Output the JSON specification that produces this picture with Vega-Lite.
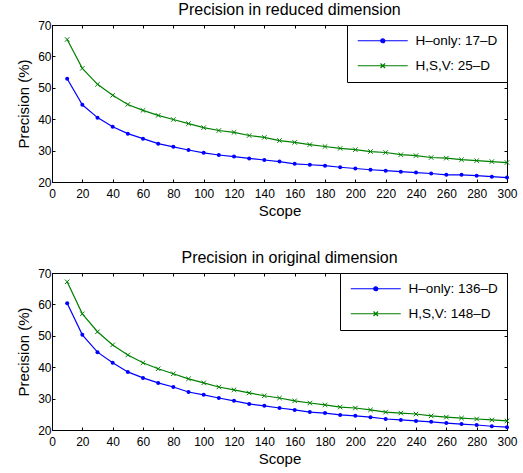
{
  "$schema": "https://vega.github.io/schema/vega-lite/v6.json",
  "background": "white",
  "padding": {"left": 16, "top": 1, "right": 4, "bottom": 2},
  "spacing": 30,
  "resolve": {"scale": {"color": "independent"}, "legend": {"color": "independent"}},
  "config": {
    "font": "Liberation Sans",
    "view": {"stroke": "black", "strokeWidth": 1},
    "axis": {
      "domainColor": "black", "tickColor": "black", "labelColor": "black", "titleColor": "black",
      "labelFont": "Liberation Sans", "titleFont": "Liberation Sans",
      "labelFontSize": 12, "titleFontSize": 15, "titleFontWeight": "normal",
      "grid": false, "tickSize": -3, "domainWidth": 1, "labelFlush": false, "labelOverlap": false
    },
    "axisX": {"labelPadding": 9, "titlePadding": 4},
    "axisY": {"labelPadding": 4, "titlePadding": 6},
    "title": {"font": "Liberation Sans", "fontSize": 16, "fontWeight": "normal", "color": "black", "offset": 1, "dx": 10},
    "legend": {
      "orient": "top-right", "offset": 0, "title": null,
      "strokeColor": "black", "fillColor": "white", "padding": 9,
      "labelFont": "Liberation Sans", "labelFontSize": 13.5, "labelColor": "black",
      "symbolSize": 100, "symbolStrokeWidth": 1.2, "labelOffset": 46, "rowPadding": 10
    }
  },
  "datasets": {
    "top": [
      {"s":"H–only: 17–D","x":10,"y":52.9},{"s":"H–only: 17–D","x":20,"y":44.6},{"s":"H–only: 17–D","x":30,"y":40.5},{"s":"H–only: 17–D","x":40,"y":37.6},{"s":"H–only: 17–D","x":50,"y":35.4},{"s":"H–only: 17–D","x":60,"y":33.8},{"s":"H–only: 17–D","x":70,"y":32.2},{"s":"H–only: 17–D","x":80,"y":31.2},{"s":"H–only: 17–D","x":90,"y":30.2},{"s":"H–only: 17–D","x":100,"y":29.3},
      {"s":"H–only: 17–D","x":110,"y":28.6},{"s":"H–only: 17–D","x":120,"y":28.1},{"s":"H–only: 17–D","x":130,"y":27.5},{"s":"H–only: 17–D","x":140,"y":27.0},{"s":"H–only: 17–D","x":150,"y":26.5},{"s":"H–only: 17–D","x":160,"y":25.8},{"s":"H–only: 17–D","x":170,"y":25.5},{"s":"H–only: 17–D","x":180,"y":25.2},{"s":"H–only: 17–D","x":190,"y":24.7},{"s":"H–only: 17–D","x":200,"y":24.3},
      {"s":"H–only: 17–D","x":210,"y":23.9},{"s":"H–only: 17–D","x":220,"y":23.6},{"s":"H–only: 17–D","x":230,"y":23.3},{"s":"H–only: 17–D","x":240,"y":23.0},{"s":"H–only: 17–D","x":250,"y":22.7},{"s":"H–only: 17–D","x":260,"y":22.3},{"s":"H–only: 17–D","x":270,"y":22.3},{"s":"H–only: 17–D","x":280,"y":22.0},{"s":"H–only: 17–D","x":290,"y":21.7},{"s":"H–only: 17–D","x":300,"y":21.4},
      {"s":"H,S,V: 25–D","x":10,"y":65.4},{"s":"H,S,V: 25–D","x":20,"y":56.2},{"s":"H,S,V: 25–D","x":30,"y":51.1},{"s":"H,S,V: 25–D","x":40,"y":47.6},{"s":"H,S,V: 25–D","x":50,"y":44.7},{"s":"H,S,V: 25–D","x":60,"y":42.8},{"s":"H,S,V: 25–D","x":70,"y":41.2},{"s":"H,S,V: 25–D","x":80,"y":39.9},{"s":"H,S,V: 25–D","x":90,"y":38.6},{"s":"H,S,V: 25–D","x":100,"y":37.3},
      {"s":"H,S,V: 25–D","x":110,"y":36.4},{"s":"H,S,V: 25–D","x":120,"y":35.8},{"s":"H,S,V: 25–D","x":130,"y":34.8},{"s":"H,S,V: 25–D","x":140,"y":34.2},{"s":"H,S,V: 25–D","x":150,"y":33.2},{"s":"H,S,V: 25–D","x":160,"y":32.6},{"s":"H,S,V: 25–D","x":170,"y":31.9},{"s":"H,S,V: 25–D","x":180,"y":31.3},{"s":"H,S,V: 25–D","x":190,"y":30.7},{"s":"H,S,V: 25–D","x":200,"y":30.3},
      {"s":"H,S,V: 25–D","x":210,"y":29.7},{"s":"H,S,V: 25–D","x":220,"y":29.4},{"s":"H,S,V: 25–D","x":230,"y":28.7},{"s":"H,S,V: 25–D","x":240,"y":28.4},{"s":"H,S,V: 25–D","x":250,"y":27.8},{"s":"H,S,V: 25–D","x":260,"y":27.6},{"s":"H,S,V: 25–D","x":270,"y":27.1},{"s":"H,S,V: 25–D","x":280,"y":26.8},{"s":"H,S,V: 25–D","x":290,"y":26.5},{"s":"H,S,V: 25–D","x":300,"y":26.2}
    ],
    "bottom": [
      {"s":"H–only: 136–D","x":10,"y":60.4},{"s":"H–only: 136–D","x":20,"y":50.3},{"s":"H–only: 136–D","x":30,"y":44.8},{"s":"H–only: 136–D","x":40,"y":41.4},{"s":"H–only: 136–D","x":50,"y":38.5},{"s":"H–only: 136–D","x":60,"y":36.6},{"s":"H–only: 136–D","x":70,"y":35.0},{"s":"H–only: 136–D","x":80,"y":33.7},{"s":"H–only: 136–D","x":90,"y":32.1},{"s":"H–only: 136–D","x":100,"y":31.2},
      {"s":"H–only: 136–D","x":110,"y":30.2},{"s":"H–only: 136–D","x":120,"y":29.3},{"s":"H–only: 136–D","x":130,"y":28.3},{"s":"H–only: 136–D","x":140,"y":27.7},{"s":"H–only: 136–D","x":150,"y":27.0},{"s":"H–only: 136–D","x":160,"y":26.4},{"s":"H–only: 136–D","x":170,"y":25.7},{"s":"H–only: 136–D","x":180,"y":25.4},{"s":"H–only: 136–D","x":190,"y":24.8},{"s":"H–only: 136–D","x":200,"y":24.5},
      {"s":"H–only: 136–D","x":210,"y":24.1},{"s":"H–only: 136–D","x":220,"y":23.5},{"s":"H–only: 136–D","x":230,"y":23.2},{"s":"H–only: 136–D","x":240,"y":22.9},{"s":"H–only: 136–D","x":250,"y":22.6},{"s":"H–only: 136–D","x":260,"y":22.2},{"s":"H–only: 136–D","x":270,"y":21.9},{"s":"H–only: 136–D","x":280,"y":21.6},{"s":"H–only: 136–D","x":290,"y":21.2},{"s":"H–only: 136–D","x":300,"y":20.9},
      {"s":"H,S,V: 148–D","x":10,"y":67.2},{"s":"H,S,V: 148–D","x":20,"y":57.0},{"s":"H,S,V: 148–D","x":30,"y":51.3},{"s":"H,S,V: 148–D","x":40,"y":47.1},{"s":"H,S,V: 148–D","x":50,"y":43.9},{"s":"H,S,V: 148–D","x":60,"y":41.4},{"s":"H,S,V: 148–D","x":70,"y":39.5},{"s":"H,S,V: 148–D","x":80,"y":37.9},{"s":"H,S,V: 148–D","x":90,"y":36.3},{"s":"H,S,V: 148–D","x":100,"y":35.0},
      {"s":"H,S,V: 148–D","x":110,"y":33.7},{"s":"H,S,V: 148–D","x":120,"y":32.8},{"s":"H,S,V: 148–D","x":130,"y":31.8},{"s":"H,S,V: 148–D","x":140,"y":30.9},{"s":"H,S,V: 148–D","x":150,"y":30.2},{"s":"H,S,V: 148–D","x":160,"y":29.3},{"s":"H,S,V: 148–D","x":170,"y":28.6},{"s":"H,S,V: 148–D","x":180,"y":28.0},{"s":"H,S,V: 148–D","x":190,"y":27.3},{"s":"H,S,V: 148–D","x":200,"y":27.0},
      {"s":"H,S,V: 148–D","x":210,"y":26.4},{"s":"H,S,V: 148–D","x":220,"y":25.7},{"s":"H,S,V: 148–D","x":230,"y":25.4},{"s":"H,S,V: 148–D","x":240,"y":25.1},{"s":"H,S,V: 148–D","x":250,"y":24.5},{"s":"H,S,V: 148–D","x":260,"y":24.1},{"s":"H,S,V: 148–D","x":270,"y":23.8},{"s":"H,S,V: 148–D","x":280,"y":23.5},{"s":"H,S,V: 148–D","x":290,"y":23.2},{"s":"H,S,V: 148–D","x":300,"y":22.9}
    ]
  },
  "vconcat": [
    {
      "title": "Precision in reduced dimension",
      "width": 455, "height": 157,
      "data": {"name": "top"},
      "resolve": {"axis": {"x": "independent", "y": "independent"}},
      "layer": [
        {
          "mark": {"type": "line", "strokeWidth": 1.2},
          "encoding": {
            "x": {"field": "x", "type": "quantitative", "scale": {"domain": [0, 300], "nice": false}, "axis": {"title": "Scope", "values": [0,20,40,60,80,100,120,140,160,180,200,220,240,260,280,300]}},
            "y": {"field": "y", "type": "quantitative", "scale": {"domain": [20, 70], "nice": false, "zero": false}, "axis": {"title": "Precision (%)", "values": [20,30,40,50,60,70]}},
            "color": {"field": "s", "type": "nominal", "scale": {"domain": ["H–only: 17–D", "H,S,V: 25–D"], "range": ["#0000ff", "#008000"]},
              "legend": {"encode": {"symbols": {"update": {
                "shape": {"signal": "datum.value === 'H–only: 17–D' ? 'M-1,0H9M3.6,0A0.4,0.4 0 1 0 4.4,0A0.4,0.4 0 1 0 3.6,0' : 'M-1,0H9M3.55,-0.45L4.45,0.45M3.55,0.45L4.45,-0.45'"},
                "fill": {"signal": "datum.value === 'H–only: 17–D' ? '#0000ff' : 'transparent'"}
              }}}}}
          }
        },
        {
          "transform": [{"filter": "datum.s === 'H–only: 17–D'"}],
          "mark": {"type": "point", "shape": "circle", "filled": true, "opacity": 1, "size": 16},
          "encoding": {
            "x": {"field": "x", "type": "quantitative", "axis": {"orient": "top", "labels": false, "title": null, "values": [0,20,40,60,80,100,120,140,160,180,200,220,240,260,280,300]}},
            "y": {"field": "y", "type": "quantitative", "axis": {"orient": "right", "labels": false, "title": null, "values": [20,30,40,50,60,70]}},
            "color": {"field": "s", "type": "nominal", "legend": null}
          }
        },
        {
          "transform": [{"filter": "datum.s === 'H,S,V: 25–D'"}],
          "mark": {"type": "point", "shape": "M-1,-1L1,1M-1,1L1,-1", "filled": false, "opacity": 1, "size": 20, "strokeWidth": 1},
          "encoding": {
            "x": {"field": "x", "type": "quantitative", "axis": null},
            "y": {"field": "y", "type": "quantitative", "axis": null},
            "color": {"field": "s", "type": "nominal", "legend": null}
          }
        }
      ]
    },
    {
      "title": "Precision in original dimension",
      "width": 455, "height": 157,
      "data": {"name": "bottom"},
      "resolve": {"axis": {"x": "independent", "y": "independent"}},
      "layer": [
        {
          "mark": {"type": "line", "strokeWidth": 1.2},
          "encoding": {
            "x": {"field": "x", "type": "quantitative", "scale": {"domain": [0, 300], "nice": false}, "axis": {"title": "Scope", "values": [0,20,40,60,80,100,120,140,160,180,200,220,240,260,280,300]}},
            "y": {"field": "y", "type": "quantitative", "scale": {"domain": [20, 70], "nice": false, "zero": false}, "axis": {"title": "Precision (%)", "values": [20,30,40,50,60,70]}},
            "color": {"field": "s", "type": "nominal", "scale": {"domain": ["H–only: 136–D", "H,S,V: 148–D"], "range": ["#0000ff", "#008000"]},
              "legend": {"encode": {"symbols": {"update": {
                "shape": {"signal": "datum.value === 'H–only: 136–D' ? 'M-1,0H9M3.6,0A0.4,0.4 0 1 0 4.4,0A0.4,0.4 0 1 0 3.6,0' : 'M-1,0H9M3.55,-0.45L4.45,0.45M3.55,0.45L4.45,-0.45'"},
                "fill": {"signal": "datum.value === 'H–only: 136–D' ? '#0000ff' : 'transparent'"}
              }}}}}
          }
        },
        {
          "transform": [{"filter": "datum.s === 'H–only: 136–D'"}],
          "mark": {"type": "point", "shape": "circle", "filled": true, "opacity": 1, "size": 16},
          "encoding": {
            "x": {"field": "x", "type": "quantitative", "axis": {"orient": "top", "labels": false, "title": null, "values": [0,20,40,60,80,100,120,140,160,180,200,220,240,260,280,300]}},
            "y": {"field": "y", "type": "quantitative", "axis": {"orient": "right", "labels": false, "title": null, "values": [20,30,40,50,60,70]}},
            "color": {"field": "s", "type": "nominal", "legend": null}
          }
        },
        {
          "transform": [{"filter": "datum.s === 'H,S,V: 148–D'"}],
          "mark": {"type": "point", "shape": "M-1,-1L1,1M-1,1L1,-1", "filled": false, "opacity": 1, "size": 20, "strokeWidth": 1},
          "encoding": {
            "x": {"field": "x", "type": "quantitative", "axis": null},
            "y": {"field": "y", "type": "quantitative", "axis": null},
            "color": {"field": "s", "type": "nominal", "legend": null}
          }
        }
      ]
    }
  ]
}
